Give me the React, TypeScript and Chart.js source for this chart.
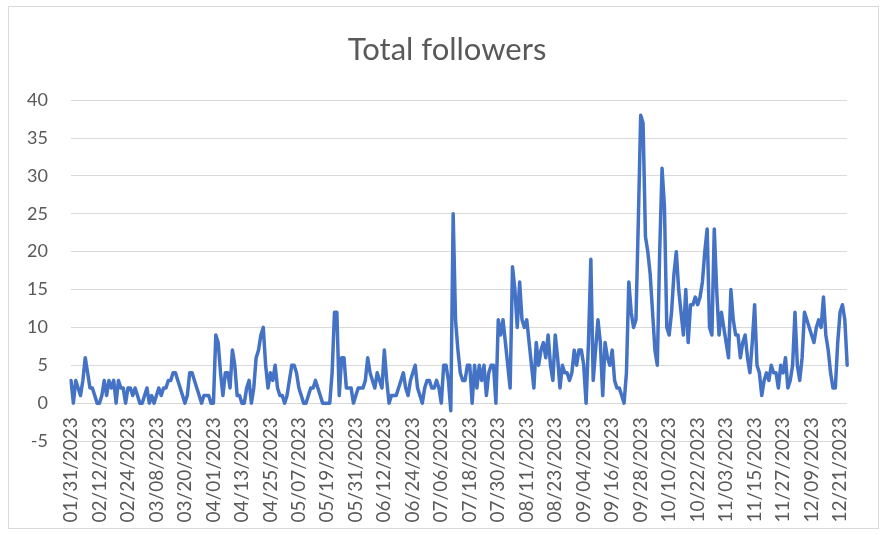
import { useEffect, useRef } from 'react';
import { Chart, registerables } from 'chart.js';

Chart.register(...registerables);

const TITLE = 'Total followers';
const START_DATE = '2023-01-31';

const TICK_LABELS = [
  '01/31/2023', '02/12/2023', '02/24/2023', '03/08/2023', '03/20/2023', '04/01/2023', '04/13/2023',
  '04/25/2023', '05/07/2023', '05/19/2023', '05/31/2023', '06/12/2023', '06/24/2023', '07/06/2023',
  '07/18/2023', '07/30/2023', '08/11/2023', '08/23/2023', '09/04/2023', '09/16/2023', '09/28/2023',
  '10/10/2023', '10/22/2023', '11/03/2023', '11/15/2023', '11/27/2023', '12/09/2023', '12/21/2023',
];

// daily new followers, 01/31/2023 .. 12/24/2023
const FOLLOWERS = [
  3, 0, 3, 2, 1, 3, 6, 4, 2, 2, 1, 0,
  0, 1, 3, 1, 3, 2, 3, 0, 3, 2, 2, 0,
  2, 2, 1, 2, 1, 0, 0, 1, 2, 0, 1, 0,
  1, 2, 1, 2, 2, 3, 3, 4, 4, 3, 2, 1,
  0, 1, 4, 4, 3, 2, 1, 0, 1, 1, 1, 0,
  0, 9, 8, 4, 1, 4, 4, 2, 7, 5, 1, 1,
  0, 0, 2, 3, 0, 2, 6, 7, 9, 10, 5, 2,
  4, 3, 5, 2, 1, 1, 0, 1, 3, 5, 5, 4,
  2, 1, 0, 0, 1, 2, 2, 3, 2, 1, 0, 0,
  0, 0, 4, 12, 12, 1, 6, 6, 2, 2, 2, 0,
  1, 2, 2, 2, 3, 6, 4, 3, 2, 4, 3, 2,
  7, 3, 0, 1, 1, 1, 2, 3, 4, 2, 1, 3,
  4, 5, 2, 1, 0, 2, 3, 3, 2, 2, 3, 2,
  0, 5, 5, 3, -1, 25, 11, 7, 4, 3, 3, 5,
  5, 0, 5, 2, 5, 3, 5, 1, 4, 5, 5, 0,
  11, 9, 11, 8, 5, 2, 18, 15, 10, 16, 11, 10,
  11, 8, 5, 2, 8, 5, 7, 8, 6, 9, 5, 3,
  9, 6, 2, 5, 4, 4, 3, 4, 7, 5, 7, 7,
  5, 0, 8, 19, 3, 7, 11, 8, 1, 8, 6, 5,
  7, 3, 2, 2, 1, 0, 4, 16, 12, 10, 11, 24,
  38, 37, 22, 20, 17, 12, 7, 5, 20, 31, 26, 10,
  9, 12, 17, 20, 15, 12, 9, 15, 8, 13, 13, 14,
  13, 14, 16, 20, 23, 10, 9, 23, 15, 9, 12, 10,
  8, 6, 15, 11, 9, 9, 6, 8, 9, 6, 4, 8,
  13, 5, 4, 1, 3, 4, 3, 5, 4, 4, 2, 5,
  4, 6, 2, 3, 5, 12, 5, 3, 6, 12, 11, 10,
  9, 8, 10, 11, 10, 14, 9, 7, 4, 2, 2, 8,
  12, 13, 11, 5,
];

const Y_MIN = -5;
const Y_MAX = 40;
const Y_STEP = 5;

const FONT = 'Lato, "Open Sans", sans-serif';
const TEXT_COLOR = '#595959';
const GRID_COLOR = '#d9d9d9';
const LINE_COLOR = '#4472C4';

function buildCategories(start: string, count: number): string[] {
  const [y, m, d] = start.split('-').map(Number);
  const base = Date.UTC(y, m - 1, d);
  const out: string[] = [];
  for (let i = 0; i < count; i++) {
    const dt = new Date(base + i * 86400000);
    const mm = String(dt.getUTCMonth() + 1).padStart(2, '0');
    const dd = String(dt.getUTCDate()).padStart(2, '0');
    out.push(`${mm}/${dd}/${dt.getUTCFullYear()}`);
  }
  return out;
}

const CATEGORIES = buildCategories(START_DATE, FOLLOWERS.length);

export default function App() {
  const canvasRef = useRef<HTMLCanvasElement | null>(null);

  useEffect(() => {
    const canvas = canvasRef.current;
    if (!canvas) return;
    const chart = new Chart(canvas, {
      type: 'line',
      data: {
        labels: CATEGORIES,
        datasets: [
          {
            label: TITLE,
            data: FOLLOWERS,
            yAxisID: 'y',
            borderColor: LINE_COLOR,
            backgroundColor: LINE_COLOR,
            borderWidth: 3.5,
            pointRadius: 0,
            pointHoverRadius: 0,
            tension: 0,
            borderJoinStyle: 'round',
            borderCapStyle: 'round',
            fill: false,
          },
        ],
      },
      options: {
        animation: false,
        responsive: true,
        maintainAspectRatio: false,
        layout: { padding: { left: 10, right: 0, top: 0, bottom: 94 } },
        plugins: {
          legend: { display: false },
          tooltip: { enabled: false },
          title: {
            display: true,
            text: TITLE,
            color: TEXT_COLOR,
            font: { family: FONT, size: 31, weight: 'normal' },
            padding: { top: 31, bottom: 32 },
          },
        },
        scales: {
          x: {
            type: 'category',
            position: { y: 0 } as any,
            offset: false,
            grid: { display: false, drawTicks: false },
            border: { display: false },
            ticks: {
              autoSkip: false,
              minRotation: 90,
              maxRotation: 90,
              padding: 14,
              color: TEXT_COLOR,
              font: { family: FONT, size: 19 },
              callback: (_v: any, index: number) => {
                const lab = CATEGORIES[index];
                return TICK_LABELS.includes(lab) ? lab : '';
              },
            },
            afterFit: (scale: any) => {
              scale.height = 0;
            },
          },
          y: {
            position: 'left',
            min: Y_MIN,
            max: Y_MAX,
            ticks: {
              stepSize: Y_STEP,
              padding: 23,
              color: TEXT_COLOR,
              font: { family: FONT, size: 18 },
            },
            grid: { color: GRID_COLOR, lineWidth: 1, drawTicks: false },
            border: { display: false },
            afterFit: (scale: any) => {
              scale.width = 61;
            },
          },
          yRight: {
            position: 'right',
            display: true,
            min: Y_MIN,
            max: Y_MAX,
            grid: { display: false, drawTicks: false },
            border: { display: false },
            ticks: { display: false },
            afterFit: (scale: any) => {
              scale.width = 27;
            },
          },
        },
      },
    });
    return () => chart.destroy();
  }, []);

  return (
    <div style={{ position: 'fixed', left: 0, top: 0, width: 884, height: 535, background: '#fff' }}>
      <canvas ref={canvasRef} style={{ display: 'block' }} />
      <div
        style={{
          position: 'absolute',
          left: 8,
          top: 6,
          width: 871,
          height: 523,
          border: `1px solid ${GRID_COLOR}`,
          boxSizing: 'border-box',
          pointerEvents: 'none',
        }}
      />
    </div>
  );
}
